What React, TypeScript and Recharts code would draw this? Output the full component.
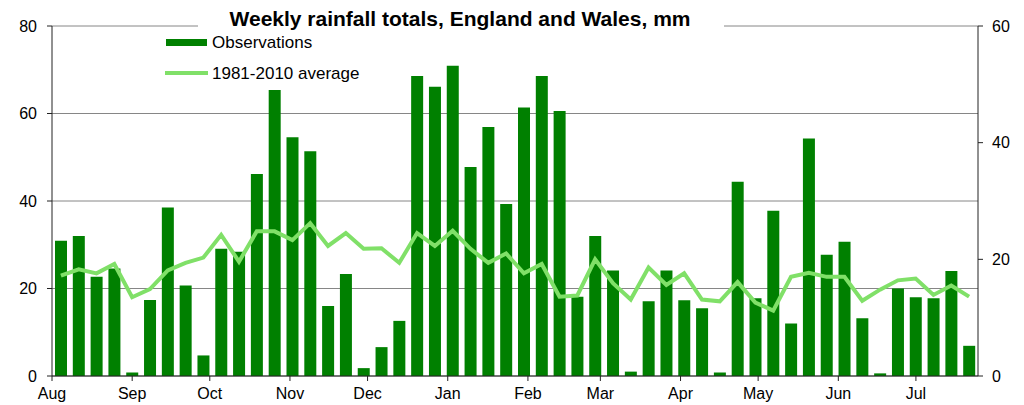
import { ComposedChart, Bar, Line, XAxis, YAxis, CartesianGrid } from 'recharts'

// weekly totals (mm), read against the left axis
const OBSERVATIONS = [
  30.9, 32.0, 22.7, 24.6, 0.8, 17.4, 38.5, 20.7, 4.7, 29.1,
  28.4, 46.2, 65.4, 54.6, 51.4, 16.0, 23.3, 1.8, 6.6, 12.6,
  68.6, 66.1, 70.9, 47.8, 56.9, 39.3, 61.4, 68.6, 60.6, 18.1,
  32.0, 24.1, 1.0, 17.1, 24.1, 17.3, 15.5, 0.8, 44.4, 17.8,
  37.8, 12.0, 54.3, 27.7, 30.7, 13.2, 0.6, 20.0, 18.0, 17.8,
  24.0, 6.9,
]

// 1981-2010 weekly average (mm), read against the right axis
const AVERAGE = [
  17.2, 18.3, 17.6, 19.2, 13.5, 14.9, 18.1, 19.4, 20.3, 24.2,
  19.6, 24.8, 24.8, 23.3, 26.2, 22.3, 24.5, 21.8, 21.9, 19.4,
  24.5, 22.3, 24.9, 21.8, 19.4, 21.0, 17.6, 19.2, 13.6, 13.8,
  20.0, 15.9, 13.1, 18.6, 15.6, 17.6, 13.1, 12.8, 16.1, 12.6,
  11.2, 17.0, 17.7, 17.0, 17.0, 12.9, 14.8, 16.4, 16.7, 13.9,
  15.5, 13.6,
]

const MONTHS = ['Aug', 'Sep', 'Oct', 'Nov', 'Dec', 'Jan', 'Feb', 'Mar', 'Apr', 'May', 'Jun', 'Jul']
const MONTH_START_DAYS = [0, 31, 61, 92, 122, 153, 184, 212, 243, 273, 304, 334]
const SPAN_DAYS = 358

const LEFT_TICKS = [0, 20, 40, 60, 80]
const RIGHT_TICKS = [0, 20, 40, 60]

const BAR_COLOR = '#008000'
const LINE_COLOR = '#80E068'
const FONT = '"Liberation Sans", Arial, sans-serif'

const weekSpan = SPAN_DAYS / OBSERVATIONS.length
const data = OBSERVATIONS.map((obs, i) => ({
  day: (i + 0.5) * weekSpan,
  obs,
  avg: AVERAGE[i],
}))

const tickStyle = { fontSize: 16, fill: '#000', fontFamily: FONT }

export default function App() {
  return (
    <div style={{ position: 'absolute', left: 0, top: 0, width: 1024, height: 405, background: '#fff' }}>
      <ComposedChart width={1024} height={405} data={data} margin={{ top: 26, right: 0, bottom: 0, left: 0 }}>
        <CartesianGrid yAxisId="left" vertical={false} stroke="#868686" />
        <XAxis
          dataKey="day"
          type="number"
          domain={[0, SPAN_DAYS]}
          ticks={MONTH_START_DAYS}
          tickFormatter={(v: number) => MONTHS[MONTH_START_DAYS.indexOf(v)]}
          interval={0}
          height={29}
          tick={tickStyle}
          tickSize={5}
          tickMargin={7}
          stroke="#222"
        />
        <YAxis
          yAxisId="left"
          domain={[0, 80]}
          ticks={LEFT_TICKS}
          width={52}
          tick={tickStyle}
          tickSize={5}
          tickMargin={10}
          stroke="#222"
        />
        <YAxis
          yAxisId="right"
          orientation="right"
          domain={[0, 60]}
          ticks={RIGHT_TICKS}
          width={46}
          tick={tickStyle}
          tickSize={5}
          tickMargin={9}
          stroke="#222"
        />
        <Bar yAxisId="left" dataKey="obs" fill={BAR_COLOR} barSize={12} isAnimationActive={false} />
        <Line
          yAxisId="right"
          dataKey="avg"
          stroke={LINE_COLOR}
          strokeWidth={4}
          dot={false}
          type="linear"
          isAnimationActive={false}
        />
      </ComposedChart>
      <svg
        width={1024}
        height={405}
        style={{ position: 'absolute', left: 0, top: 0, pointerEvents: 'none' }}
      >
        <rect x={198} y={0} width={526} height={30} fill="#fff" />
        <text x={460} y={26} textAnchor="middle" fontFamily={FONT} fontWeight="bold" fontSize={21} fill="#000">
          Weekly rainfall totals, England and Wales, mm
        </text>
        <rect x={166} y={39} width={41} height={7} fill={BAR_COLOR} />
        <text x={212} y={48} fontFamily={FONT} fontSize={17} fill="#000">Observations</text>
        <rect x={165} y={71} width={43} height={4} fill={LINE_COLOR} />
        <text x={212} y={78.5} fontFamily={FONT} fontSize={17} fill="#000">1981-2010 average</text>
      </svg>
    </div>
  )
}
